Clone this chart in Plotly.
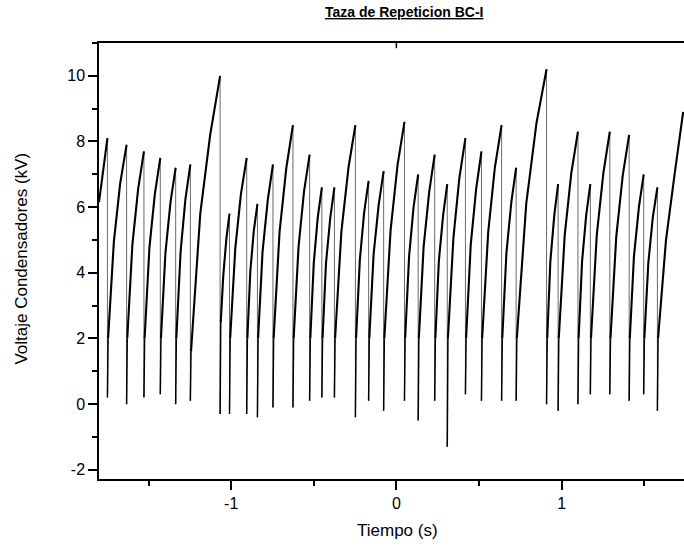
import plotly.graph_objects as go

# ---------------- data ----------------
# time (s) of each discharge (vertical drop)
drop_t = [-1.749, -1.633, -1.528, -1.429, -1.336, -1.247, -1.067, -1.010, -0.906, -0.841,
          -0.747, -0.626, -0.525, -0.451, -0.375, -0.248, -0.168, -0.077, 0.049, 0.132,
          0.232, 0.308, 0.418, 0.515, 0.637, 0.725, 0.909, 0.979, 1.099, 1.174,
          1.292, 1.409, 1.497, 1.580]
# voltage (kV) just before each discharge
peak_kv = [8.1, 7.9, 7.7, 7.5, 7.2, 7.3, 10.0, 5.8, 7.5, 6.1,
           7.3, 8.5, 7.6, 6.6, 6.6, 8.5, 6.8, 7.1, 8.6, 7.0,
           7.6, 6.7, 8.1, 7.7, 8.5, 7.2, 10.2, 6.7, 8.3, 6.7,
           8.3, 8.2, 7.0, 6.6]
# minimum voltage (kV) reached at each discharge
trough_kv = [0.2, 0.0, 0.2, 0.3, 0.0, 0.1, -0.3, -0.3, -0.3, -0.4,
             -0.1, -0.1, 0.1, 0.2, 0.2, -0.4, 0.1, -0.2, 0.1, -0.5,
             0.1, -1.3, 0.3, 0.1, 0.1, 0.1, 0.0, -0.2, 0.0, 0.3,
             0.3, 0.1, 0.3, -0.2]
# fast recovery level (kV) right after each discharge
knee_kv = [2.0, 2.0, 2.0, 2.0, 2.0, 1.6, 2.5, 2.0, 2.0, 2.0,
           2.0, 2.0, 2.0, 2.0, 2.0, 2.0, 2.0, 2.0, 2.0, 2.0,
           2.0, 2.0, 2.0, 2.0, 2.0, 2.0, 2.0, 2.0, 2.0, 2.0,
           2.0, 2.0, 2.0, 2.0]
knee_lag_s = 0.004
# two intermediate samples of each charging ramp (after each discharge)
mid1_t = [-1.710, -1.598, -1.495, -1.398, -1.306, -1.187, -1.048, -0.975, -0.884, -0.810,
          -0.707, -0.592, -0.500, -0.426, -0.333, -0.221, -0.138, -0.035, 0.077, 0.165,
          0.257, 0.345, 0.450, 0.556, 0.666, 0.786, 0.932, 1.019, 1.124, 1.213,
          1.331, 1.438, 1.525, 1.632]
mid1_kv = [4.95, 4.85, 4.75, 4.60, 4.65, 5.80, 3.90, 4.75, 4.05, 4.65,
           5.25, 4.80, 4.30, 4.30, 5.25, 4.40, 4.55, 5.30, 4.50, 4.80,
           4.35, 5.05, 4.85, 5.25, 4.60, 6.10, 4.35, 5.15, 4.35, 5.15,
           5.10, 4.50, 4.30, 5.00]
mid2_t = [-1.672, -1.563, -1.462, -1.367, -1.277, -1.127, -1.029, -0.941, -0.863, -0.778,
          -0.666, -0.559, -0.476, -0.400, -0.290, -0.195, -0.107, 0.007, 0.104, 0.199,
          0.283, 0.381, 0.483, 0.596, 0.696, 0.848, 0.956, 1.059, 1.149, 1.253,
          1.370, 1.468, 1.552, 1.684]
mid2_kv = [6.72, 6.56, 6.40, 6.16, 6.24, 8.20, 5.04, 6.40, 5.28, 6.24,
           7.20, 6.48, 5.68, 5.68, 7.20, 5.84, 6.08, 7.28, 6.00, 6.48,
           5.76, 6.88, 6.56, 7.20, 6.16, 8.56, 5.76, 7.04, 5.76, 7.04,
           6.96, 6.00, 5.68, 7.00]
start_t, start_kv = -1.800, 6.15
end_t, end_kv = 1.736, 8.9

x_ticks = [-1, 0, 1]
x_ticktext = ["-1", "0", "1"]
y_ticks = [-2, 0, 2, 4, 6, 8, 10]
y_ticktext = ["-2", "0", "2", "4", "6", "8", "10"]

# ---------------- build traces ----------------
ramp_x, ramp_y = [start_t, drop_t[0], None], [start_kv, peak_kv[0], None]
drop_x, drop_y = [], []
rec_x, rec_y = [], []
n = len(drop_t)
for k in range(n):
    nt = drop_t[k + 1] if k + 1 < n else end_t
    nv = peak_kv[k + 1] if k + 1 < n else end_kv
    kt = drop_t[k] + knee_lag_s
    ramp_x += [kt, mid1_t[k], mid2_t[k], nt, None]
    ramp_y += [knee_kv[k], mid1_kv[k], mid2_kv[k], nv, None]
    drop_x += [drop_t[k], drop_t[k], None]
    drop_y += [peak_kv[k], trough_kv[k], None]
    rec_x += [drop_t[k], kt, None]
    rec_y += [trough_kv[k], knee_kv[k], None]

fig = go.Figure()
fig.add_trace(go.Scatter(x=drop_x, y=drop_y, mode="lines",
                         line=dict(color="#6a6a6a", width=1.0), hoverinfo="skip"))
fig.add_trace(go.Scatter(x=rec_x, y=rec_y, mode="lines",
                         line=dict(color="black", width=1.5), hoverinfo="skip"))
fig.add_trace(go.Scatter(x=ramp_x, y=ramp_y, mode="lines",
                         line=dict(color="black", width=2.1), hoverinfo="skip"))

FONT = "Liberation Sans, Arial, sans-serif"
fig.update_layout(
    width=684, height=550,
    margin=dict(l=99, r=0, t=43, b=71),
    paper_bgcolor="white", plot_bgcolor="white",
    showlegend=False,
    font=dict(family=FONT, size=16, color="black"),
    annotations=[
        dict(text="<b><u>Taza de Repeticion BC-I</u></b>", xref="paper", yref="paper",
             x=0.521, y=1.0, yshift=31, xanchor="center", yanchor="middle",
             showarrow=False, font=dict(family=FONT, size=14, color="black")),
        dict(text="Tiempo (s)", xref="paper", yref="paper", x=0.51, y=-0.119,
             xanchor="center", yanchor="middle", showarrow=False,
             font=dict(family=FONT, size=17, color="black")),
        dict(text="Voltaje Condensadores (kV)", xref="paper", yref="paper",
             x=-0.132, y=0.505, xanchor="center", yanchor="middle", textangle=-90,
             showarrow=False, font=dict(family=FONT, size=17, color="black")),
    ],
    shapes=[
        # small inward tick on the top frame line at t = 0
        dict(type="line", xref="x", yref="paper", x0=0, x1=0, y0=1.0, y1=0.988,
             line=dict(color="black", width=1.5)),
    ],
)
fig.update_xaxes(
    range=[-1.800, 1.741], showgrid=False, zeroline=False,
    showline=True, linecolor="black", linewidth=1.5, mirror=True,
    ticks="outside", ticklen=9, tickwidth=1.5, tickcolor="black",
    tickmode="array", tickvals=x_ticks, ticktext=x_ticktext,
    minor=dict(ticks="outside", ticklen=5, tickwidth=1.5, tickcolor="black", dtick=0.5, tick0=0),
    tickfont=dict(size=16),
)
fig.update_yaxes(
    range=[-2.28, 11.0], showgrid=False, zeroline=False,
    showline=True, linecolor="black", linewidth=1.5,
    ticks="outside", ticklen=9, tickwidth=1.5, tickcolor="black",
    tickmode="array", tickvals=y_ticks, ticktext=y_ticktext,
    minor=dict(ticks="outside", ticklen=5, tickwidth=1.5, tickcolor="black", dtick=1, tick0=0),
    tickfont=dict(size=16),
)

fig.write_html("out.html", config={"displayModeBar": False},
               post_script="document.body.style.margin='0';document.body.style.overflow='hidden';")
